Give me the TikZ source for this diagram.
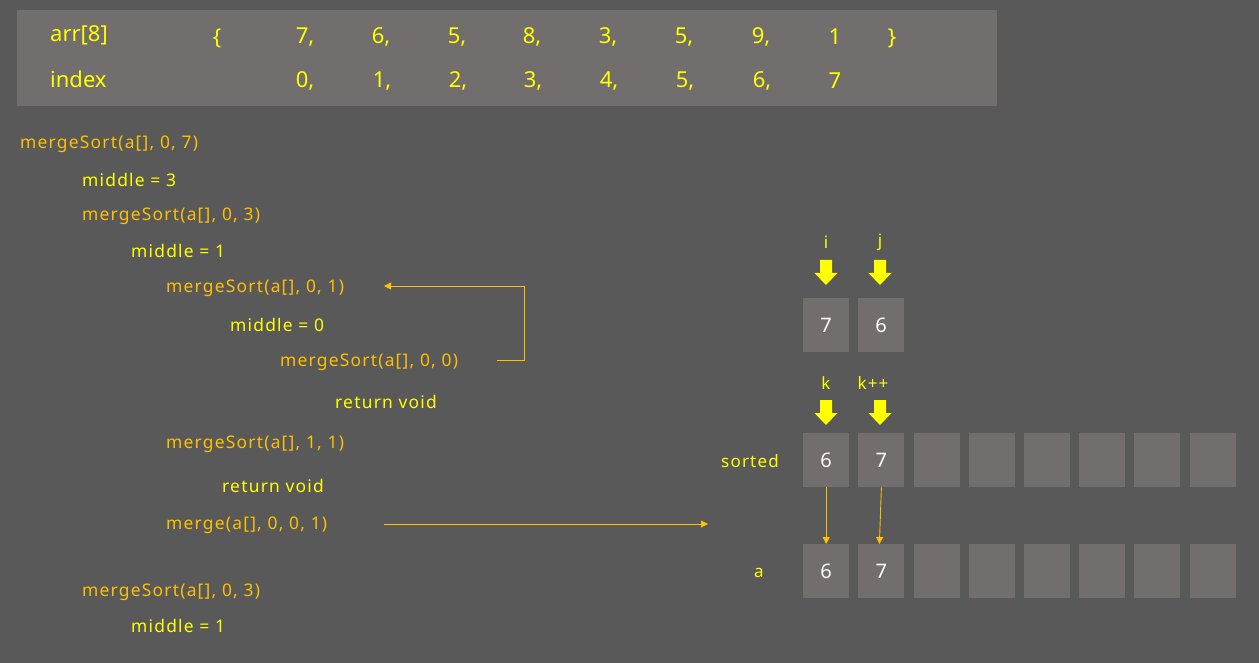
\documentclass[tikz,border=0pt]{standalone}
\usepackage{fontspec}
\setmainfont{Noto Sans}
\newfontfamily\codefont[LetterSpace=7]{Noto Sans}
\usetikzlibrary{arrows.meta}
\definecolor{bg}{HTML}{595959}
\definecolor{cell}{HTML}{726E6D}
\definecolor{yel}{HTML}{FFFF00}
\definecolor{org}{HTML}{FFC000}
\tikzset{
  hdr/.style={text=yel,font=\fontsize{22}{25}\selectfont,inner sep=0pt},
  code/.style={anchor=west,inner sep=0pt,yshift=-2pt,font=\codefont\fontsize{17.4}{20}\selectfont},
  call/.style={code,text=org},
  stmt/.style={code,text=yel},
  lbl/.style={text=yel,inner sep=0pt,yshift=-1pt,font=\codefont\fontsize{17}{20}\selectfont},
  cellbox/.style={fill=cell,minimum width=46pt,minimum height=54pt,inner sep=0pt,text=white,font=\fontsize{20}{24}\selectfont},
  link/.style={draw=org,line width=0.9pt,-{Triangle[length=7pt,width=7pt]}},
  fat/.style={fill=yel}
}
\begin{document}
\begin{tikzpicture}[x=1pt,y=-1pt]
\fill[bg] (0,0) rectangle (1259,663);
\useasboundingbox (0,0) rectangle (1259,663);
% header
\node[fill=cell,minimum width=980pt,minimum height=96pt,inner sep=0pt,anchor=north west] (panel) at (17,10) {};
\node[hdr,anchor=west] (arrlbl) at (50,35) {arr[8]};
\node[hdr,anchor=west] (idxlbl) at (50,79) {index};
\node[hdr] (lb) at (217,38) {\{};
\node[hdr] (rb) at (892,38) {\}};
\foreach \v/\x [count=\n] in {{7,}/305,{6,}/381,{5,}/457,{8,}/532,{3,}/608,{5,}/684,{9,}/761,{1}/835}{
  \node[hdr] (v\n) at (\x,37) {\v};
}
\foreach \v/\x [count=\n] in {{0,}/305,{1,}/382,{2,}/458,{3,}/533,{4,}/609,{5,}/685,{6,}/762,{7}/835}{
  \node[hdr] (ix\n) at (\x,81) {\v};
}
% code trace
\node[call] (c1) at (20,142) {mergeSort(a[], 0, 7)};
\node[stmt] (c2) at (82,178) {middle = 3};
\node[call] (c3) at (82,214) {mergeSort(a[], 0, 3)};
\node[stmt] (c4) at (131,249) {middle = 1};
\node[call] (c5) at (166,286) {mergeSort(a[], 0, 1)};
\node[stmt] (c6) at (230,323) {middle = 0};
\node[call] (c7) at (280,360) {mergeSort(a[], 0, 0)};
\node[stmt] (c8) at (335,400) {return void};
\node[call] (c9) at (166,442) {mergeSort(a[], 1, 1)};
\node[stmt] (c10) at (222,484) {return void};
\node[call] (c11) at (166,523) {merge(a[], 0, 0, 1)};
\node[call] (c12) at (82,590) {mergeSort(a[], 0, 3)};
\node[stmt] (c13) at (131,624) {middle = 1};
% loop-back arrow
\coordinate (lpA) at (497,360);
\coordinate (lpB) at (384,286);
\draw[link] (lpA) -- (524,360) |- (lpB);
% merge arrow
\coordinate (mA) at (384,524);
\coordinate (mB) at (708,524);
\draw[link] (mA) -- (mB);
% top pair
\node[cellbox,anchor=north west] (p1) at (803,298) {7};
\node[cellbox,anchor=north west] (p2) at (858,298) {6};
\node[lbl] (li) at (826,241) {i};
\node[lbl] (lj) at (880,241) {j};
\node[lbl] (lk) at (826,382) {k};
\node[lbl] (lkk) at (873,382) {k+\kern1pt+};
\foreach \x/\y/\nm in {826/260/ai,880/260/aj,826/400/ak,880/400/akk}{
  \fill[fat] (\x-6,\y) -- (\x+6,\y) -- (\x+6,\y+13) -- (\x+11.5,\y+13) -- (\x,\y+25) -- (\x-11.5,\y+13) -- (\x-6,\y+13) -- cycle;
  \coordinate (\nm) at (\x,\y);
}
% sorted and a rows
\node[lbl] (lsorted) at (750,460) {sorted};
\node[lbl] (la) at (759,572) {a};
\foreach \i/\t in {0/6,1/7,2/,3/,4/,5/,6/,7/}{
  \node[cellbox,anchor=north west] (s\i) at (803+55.2*\i,433) {\t};
  \node[cellbox,anchor=north west] (a\i) at (803+55.2*\i,544) {\t};
}
\draw[link] (s0.south) -- (a0.north);
\draw[link] (s1.south) -- ([xshift=-2pt]a1.north);
\end{tikzpicture}
\end{document}
